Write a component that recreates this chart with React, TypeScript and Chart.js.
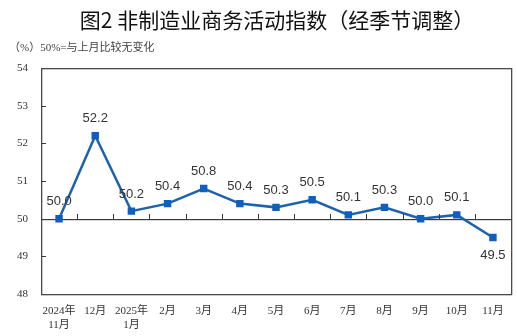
import React, { useEffect, useRef } from "react";
import { Chart, registerables } from "chart.js";

Chart.register(...registerables);

const categories: (string | string[])[] = [
  ["2024年", "11月"], "12月", ["2025年", "1月"], "2月", "3月", "4月", "5月",
  "6月", "7月", "8月", "9月", "10月", "11月",
];
const values: number[] = [50.0, 52.2, 50.2, 50.4, 50.8, 50.4, 50.3, 50.5, 50.1, 50.3, 50.0, 50.1, 49.5];
const yTicks: number[] = [48, 49, 50, 51, 52, 53, 54];
const titleText = "图2 非制造业商务活动指数（经季节调整）";
const subtitleText = "（%）50%=与上月比较无变化";

const AXIS_COLOR = "#3a3a3a";
const FRAME_COLOR = "#4a4a4a";
const SERIF = "'Liberation Serif', 'Noto Sans CJK SC', serif";

const decorPlugin = {
  id: "decor",
  afterDraw(chart: any) {
    const { ctx } = chart;
    const xs = chart.scales.x;
    const y = chart.scales.y;
    const L = Math.round(xs.left);
    const R = Math.round(xs.right);
    const T = Math.round(y.getPixelForValue(54));
    const B = Math.round(y.getPixelForValue(48));
    ctx.save();
    ctx.fillStyle = FRAME_COLOR;
    ctx.fillRect(L, T, R - L + 1, 1.3);
    ctx.fillRect(L, B, R - L + 1, 1.3);
    ctx.fillRect(L, T, 1.3, B - T + 1);
    ctx.fillRect(R, T, 1.3, B - T + 1);
    ctx.fillStyle = AXIS_COLOR;
    const y50 = Math.round(y.getPixelForValue(50));
    const n = categories.length;
    const bw = (R - L) / n;
    for (let i = 1; i < n; i++) {
      const px = Math.round(L + i * bw);
      ctx.fillRect(px, y50 - 5, 1, 5);
    }
    for (const t of yTicks) {
      if (t === 48 || t === 54) continue;
      const py = Math.round(y.getPixelForValue(t));
      ctx.fillRect(L, py, 5, 1);
    }
    ctx.restore();
  },
  beforeDatasetsDraw(chart: any) {
    const { ctx, chartArea } = chart;
    const y = chart.scales.y;
    ctx.save();
    ctx.fillStyle = AXIS_COLOR;
    const y50 = Math.round(y.getPixelForValue(50));
    ctx.fillRect(chartArea.left, y50, chartArea.right - chartArea.left, 1.2);
    ctx.fillStyle = "#111";
    ctx.font = "normal 21px 'Noto Sans CJK SC', sans-serif";
    ctx.textAlign = "center";
    ctx.textBaseline = "middle";
    ctx.fillText(titleText, 277, 20);
    ctx.fillStyle = "#444";
    ctx.font = "11px " + SERIF;
    ctx.textAlign = "left";
    ctx.fillText(subtitleText, 9, 48);
    ctx.restore();
  },
  afterDatasetsDraw(chart: any) {
    const { ctx } = chart;
    const meta = chart.getDatasetMeta(0);
    ctx.save();
    ctx.fillStyle = "#333";
    ctx.font = "13px 'Liberation Sans', sans-serif";
    ctx.textAlign = "center";
    ctx.textBaseline = "middle";
    meta.data.forEach((pt: any, i: number) => {
      const v = values[i];
      const below = i === values.length - 1;
      ctx.fillText(v.toFixed(1), pt.x, pt.y + (below ? 18 : -17));
    });
    ctx.restore();
  },
};

export default function App() {
  const ref = useRef<HTMLCanvasElement>(null);
  useEffect(() => {
    if (!ref.current) return;
    const chart = new Chart(ref.current, {
      type: "line",
      data: {
        labels: categories,
        datasets: [
          {
            data: values,
            borderColor: "#1d62b0",
            backgroundColor: "#0f5fc0",
            borderWidth: 2.5,
            pointStyle: "rect",
            pointRadius: 3.5,
            pointHoverRadius: 3.5,
            pointBackgroundColor: "#0f5fc0",
            pointBorderColor: "#0f5fc0",
            tension: 0,
          },
        ],
      },
      plugins: [decorPlugin],
      options: {
        responsive: false,
        animation: false,
        events: [],
        layout: { padding: { top: 68, right: 5, left: 0, bottom: 0 } },
        plugins: { legend: { display: false }, tooltip: { enabled: false }, title: { display: false } },
        scales: {
          x: {
            type: "category",
            offset: true,
            grid: { display: false, drawTicks: false },
            border: { display: false },
            ticks: {
              autoSkip: false,
              maxRotation: 0,
              minRotation: 0,
              padding: 11,
              color: "#333",
              font: { family: SERIF, size: 11, lineHeight: 1.2 },
            },
            afterFit: (s: any) => { s.height = 42; },
          },
          y: {
            min: 48,
            max: 54,
            afterBuildTicks: (s: any) => { s.ticks = yTicks.map((v) => ({ value: v })); },
            grid: { display: false, drawTicks: false },
            border: { display: false },
            ticks: {
              padding: 13,
              color: "#333",
              font: { family: SERIF, size: 11 },
            },
            afterFit: (s: any) => { s.width = 41; },
          },
        },
      },
    });
    return () => chart.destroy();
  }, []);
  return (
    <div style={{ position: "fixed", left: 0, top: 0, width: 517, height: 336, background: "#fff" }}>
      <canvas ref={ref} width={517} height={336} style={{ width: 517, height: 336 }} />
    </div>
  );
}
